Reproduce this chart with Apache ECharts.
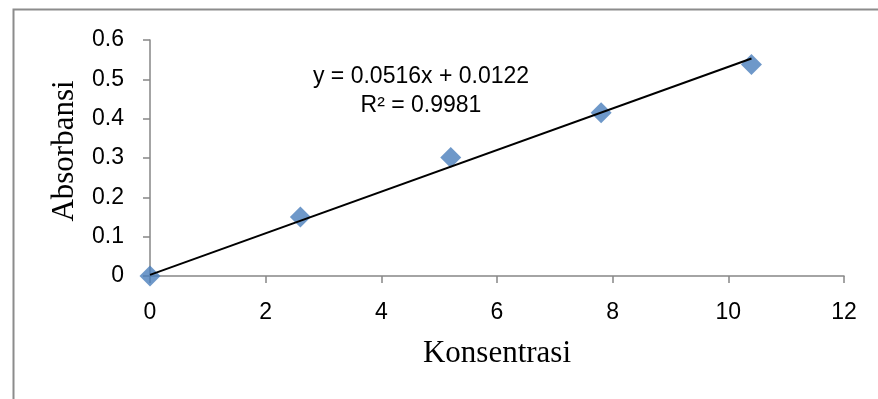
<!DOCTYPE html>
<html>
<head>
<meta charset="utf-8">
<script src="https://cdn.jsdelivr.net/npm/echarts@6/dist/echarts.min.js"></script>
<style>
  html, body { margin: 0; padding: 0; background: #fff; }
  #chart { width: 878px; height: 399px; }
</style>
</head>
<body>
<div id="chart"></div>
<script>
// data
const konsentrasi = [0, 2.6, 5.2, 7.8, 10.4];
const absorbansi = [0, 0.15, 0.301, 0.415, 0.538];
// trendline end points as drawn
const trendX = [0, 10.4];
const trendY = [0.003, 0.553];
const equationText = ["y = 0.0516x + 0.0122", "R² = 0.9981"];

const axisGrey = "#868686";
const labelFont = "'Liberation Sans', Arial, sans-serif";
const titleFont = "'Liberation Serif', 'Times New Roman', serif";

const chart = echarts.init(document.getElementById("chart"));

const option = {
    animation: false,
    backgroundColor: "#fff",
    grid: {
        left: 150,
        right: 34,
        top: 40,
        bottom: 123,
    },
    xAxis: {
        type: "value",
        min: 0,
        max: 12,
        interval: 2,
        name: "Konsentrasi",
        nameLocation: "middle",
        nameGap: 62,
        nameTextStyle: {
            fontFamily: titleFont,
            fontSize: 31,
            color: "#000",
        },
        axisLine: { show: true, lineStyle: { color: axisGrey, width: 1.5 } },
        axisTick: { show: true, length: 7, lineStyle: { color: axisGrey, width: 1.5 } },
        splitLine: { show: false },
        axisLabel: {
            margin: 25,
            fontFamily: labelFont,
            fontSize: 23,
            color: "#000",
        },
    },
    yAxis: {
        type: "value",
        min: 0,
        max: 0.6,
        interval: 0.1,
        name: "Absorbansi",
        nameLocation: "middle",
        nameGap: 70,
        nameTextStyle: {
            fontFamily: titleFont,
            fontSize: 31,
            color: "#000",
            padding: [0, 0, 0, 14],
        },
        axisLine: { show: true, lineStyle: { color: axisGrey, width: 1.5 } },
        axisTick: { show: true, length: 7, lineStyle: { color: axisGrey, width: 1.5 } },
        splitLine: { show: false },
        axisLabel: {
            margin: 26,
            fontFamily: labelFont,
            fontSize: 23,
            color: "#000",
        },
    },
    graphic: [
        {
            type: "rect",
            shape: { x: 13.5, y: 9.5, width: 900, height: 450 },
            style: { fill: "none", stroke: "#8c8c8c", lineWidth: 2 },
            silent: true,
            z: -1,
        },
        {
            type: "text",
            x: 421,
            y: 62,
            style: {
                text: equationText.join("\n"),
                fontFamily: labelFont,
                fontSize: 23,
                lineHeight: 29,
                textAlign: "center",
                align: "center",
                fill: "#000",
            },
        },
    ],
    series: [
        {
            name: "Absorbansi",
            type: "scatter",
            symbol: "diamond",
            symbolSize: 21,
            itemStyle: { color: "#4a7ebb" },
            data: konsentrasi.map((x, i) => [x, absorbansi[i]]),
            z: 2,
        },
        {
            name: "Linear",
            type: "line",
            symbol: "none",
            lineStyle: { color: "#000", width: 2 },
            data: trendX.map((x, i) => [x, trendY[i]]),
            z: 3,
        },
    ],
};

chart.setOption(option);
</script>
</body>
</html>
